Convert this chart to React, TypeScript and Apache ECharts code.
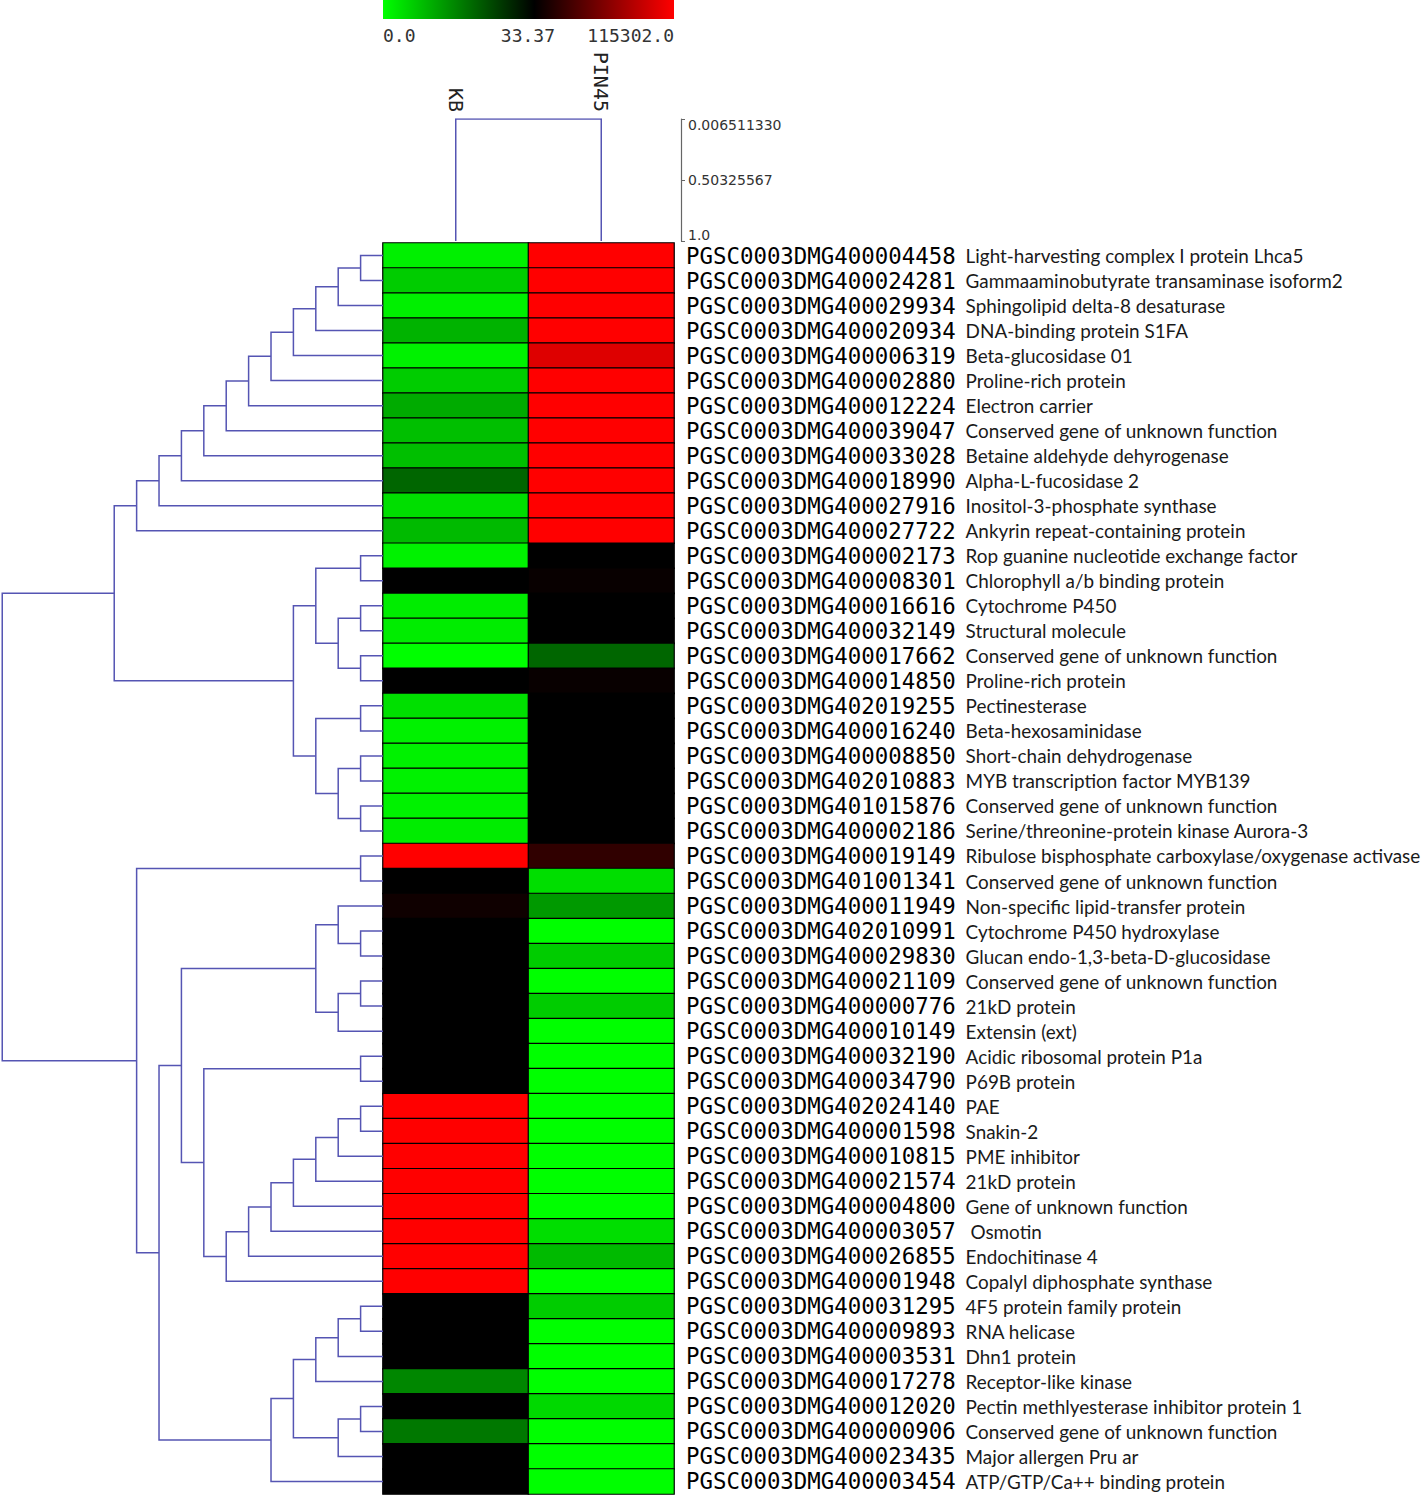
import React, { useEffect, useRef } from 'react';
import * as echarts from 'echarts';

const samples = ['KB', 'PIN45'];

const geneIds = [
  'PGSC0003DMG400004458', 'PGSC0003DMG400024281', 'PGSC0003DMG400029934', 'PGSC0003DMG400020934',
  'PGSC0003DMG400006319', 'PGSC0003DMG400002880', 'PGSC0003DMG400012224', 'PGSC0003DMG400039047',
  'PGSC0003DMG400033028', 'PGSC0003DMG400018990', 'PGSC0003DMG400027916', 'PGSC0003DMG400027722',
  'PGSC0003DMG400002173', 'PGSC0003DMG400008301', 'PGSC0003DMG400016616', 'PGSC0003DMG400032149',
  'PGSC0003DMG400017662', 'PGSC0003DMG400014850', 'PGSC0003DMG402019255', 'PGSC0003DMG400016240',
  'PGSC0003DMG400008850', 'PGSC0003DMG402010883', 'PGSC0003DMG401015876', 'PGSC0003DMG400002186',
  'PGSC0003DMG400019149', 'PGSC0003DMG401001341', 'PGSC0003DMG400011949', 'PGSC0003DMG402010991',
  'PGSC0003DMG400029830', 'PGSC0003DMG400021109', 'PGSC0003DMG400000776', 'PGSC0003DMG400010149',
  'PGSC0003DMG400032190', 'PGSC0003DMG400034790', 'PGSC0003DMG402024140', 'PGSC0003DMG400001598',
  'PGSC0003DMG400010815', 'PGSC0003DMG400021574', 'PGSC0003DMG400004800', 'PGSC0003DMG400003057',
  'PGSC0003DMG400026855', 'PGSC0003DMG400001948', 'PGSC0003DMG400031295', 'PGSC0003DMG400009893',
  'PGSC0003DMG400003531', 'PGSC0003DMG400017278', 'PGSC0003DMG400012020', 'PGSC0003DMG400000906',
  'PGSC0003DMG400023435', 'PGSC0003DMG400003454',
];

const geneNames = [
  'Light-harvesting complex I protein Lhca5', 'Gammaaminobutyrate transaminase isoform2',
  'Sphingolipid delta-8 desaturase', 'DNA-binding protein S1FA', 'Beta-glucosidase 01',
  'Proline-rich protein', 'Electron carrier', 'Conserved gene of unknown function',
  'Betaine aldehyde dehyrogenase', 'Alpha-L-fucosidase 2', 'Inositol-3-phosphate synthase',
  'Ankyrin repeat-containing protein', 'Rop guanine nucleotide exchange factor',
  'Chlorophyll a/b binding protein', 'Cytochrome P450', 'Structural molecule',
  'Conserved gene of unknown function', 'Proline-rich protein', 'Pectinesterase',
  'Beta-hexosaminidase', 'Short-chain dehydrogenase', 'MYB transcription factor MYB139',
  'Conserved gene of unknown function', 'Serine/threonine-protein kinase Aurora-3',
  'Ribulose bisphosphate carboxylase/oxygenase activase', 'Conserved gene of unknown function',
  'Non-specific lipid-transfer protein', 'Cytochrome P450 hydroxylase',
  'Glucan endo-1,3-beta-D-glucosidase', 'Conserved gene of unknown function', '21kD protein',
  'Extensin (ext)', 'Acidic ribosomal protein P1a', 'P69B protein', 'PAE', 'Snakin-2',
  'PME inhibitor', '21kD protein', 'Gene of unknown function', ' Osmotin', 'Endochitinase 4',
  'Copalyl diphosphate synthase', '4F5 protein family protein', 'RNA helicase', 'Dhn1 protein',
  'Receptor-like kinase', 'Pectin methlyesterase inhibitor protein 1',
  'Conserved gene of unknown function', 'Major allergen Pru ar', 'ATP/GTP/Ca++ binding protein',
];

// colour level: -1 = green (0.0), 0 = black (33.37), 1 = red (115302.0)
const kbLevel = [
  -0.94, -0.8, -0.94, -0.7, -0.95, -0.8, -0.67, -0.75, -0.75, -0.4, -0.87, -0.73,
  -0.95, 0, -0.93, -0.93, -1, 0, -0.88, -0.95, -0.95, -0.95, -0.95, -0.93,
  1, 0, 0.06, 0, 0, 0, 0, 0, 0, 0,
  1, 1, 1, 1, 1, 1, 1, 1,
  0, 0, 0, -0.53, 0, -0.47, 0, 0,
];
const pin45Level = [
  1, 1, 1, 1, 0.87, 1, 1, 1, 1, 1, 1, 1,
  0, 0.03, 0, 0, -0.4, 0.03, 0, 0, 0, 0, 0, 0,
  0.19, -0.87, -0.6, -1, -0.8, -1, -0.8, -1, -1, -1,
  -1, -1, -1, -1, -1, -0.87, -0.73, -1,
  -0.8, -1, -1, -1, -0.85, -1, -1, -1,
];

const colorbarLabels = ['0.0', '33.37', '115302.0'];
const scaleTicks = [0.00651133, 0.503255665, 1.0];
const scaleTickLabels = ['0.006511330', '0.50325567', '1.0'];
const columnMergeHeight = 0.00651133;
const columnLeafHeight = 1.0;

// row dendrogram merges: [childA, childB, height]; leaves 0..49, merge k -> node 50+k
const rowMerges: [number, number, number][] = [
  [0, 1, 1], [50, 2, 2], [51, 3, 3], [52, 4, 4], [53, 5, 5], [54, 6, 6], [55, 7, 7],
  [56, 8, 8], [57, 9, 9], [58, 10, 10], [59, 11, 11],
  [12, 13, 1], [14, 15, 1], [16, 17, 1], [62, 63, 2], [61, 64, 3],
  [18, 19, 1], [20, 21, 1], [22, 23, 1], [67, 68, 2], [66, 69, 3], [65, 70, 4],
  [60, 71, 12],
  [24, 25, 1], [27, 28, 1], [26, 74, 2], [29, 30, 1], [76, 31, 2], [75, 77, 3],
  [32, 33, 1], [34, 35, 1], [80, 36, 2], [81, 37, 3], [82, 38, 4], [83, 39, 5],
  [84, 40, 6], [85, 41, 7], [79, 86, 8], [78, 87, 9],
  [42, 43, 1], [89, 44, 2], [90, 45, 3], [46, 47, 1], [92, 48, 2], [91, 93, 4], [94, 49, 5],
  [88, 95, 10], [73, 96, 11], [72, 97, 17],
];

const TREE = '#5555b3';

export default function App() {
  const ref = useRef<HTMLDivElement>(null);
  useEffect(() => {
    if (!ref.current) return;
    const chart = echarts.init(ref.current, undefined, { renderer: 'svg' });

    const n = geneIds.length;
    const nodeY: number[] = [];
    const nodeH: number[] = [];
    for (let i = 0; i < n; i++) { nodeY.push(i); nodeH.push(0); }
    const rowLines: any[] = [];
    rowMerges.forEach(([a, b, h]) => {
      rowLines.push({ coords: [[nodeH[a], nodeY[a]], [h, nodeY[a]], [h, nodeY[b]], [nodeH[b], nodeY[b]]] });
      nodeY.push((nodeY[a] + nodeY[b]) / 2);
      nodeH.push(h);
    });

    const heat: number[][] = [];
    for (let r = 0; r < n; r++) {
      heat.push([0, r, kbLevel[r]]);
      heat.push([1, r, pin45Level[r]]);
    }

    const option: any = {
      animation: false,
      backgroundColor: '#ffffff',
      grid: [
        { left: 383, top: 243, width: 291, height: 1251, outerBoundsMode: 'none', containLabel: false },
        { left: 383, top: 119, width: 291, height: 122, outerBoundsMode: 'none', containLabel: false },
        { left: 0, top: 243, width: 383, height: 1251, outerBoundsMode: 'none', containLabel: false },
      ],
      xAxis: [
        {
          gridIndex: 0, type: 'category', data: samples, position: 'top',
          axisLine: { show: false }, axisTick: { show: false }, splitLine: { show: false },
          axisLabel: { rotate: 90, margin: 131, fontFamily: 'DejaVu Sans Mono', fontSize: 20, color: '#222' },
        },
        { gridIndex: 1, type: 'value', min: -0.5, max: 1.5, show: false },
        { gridIndex: 2, type: 'value', min: 0, max: 17.1, inverse: true, show: false },
      ],
      yAxis: [
        {
          gridIndex: 0, type: 'category', data: geneIds, inverse: true, position: 'right',
          axisLine: { show: false }, axisTick: { show: false }, splitLine: { show: false },
          axisLabel: {
            interval: 0, margin: 12,
            formatter: (v: string, i: number) => `{id|${v}}{desc|${geneNames[i]}}`,
            rich: {
              id: { fontFamily: 'DejaVu Sans Mono', fontSize: 22.4, color: '#000' },
              desc: { fontFamily: 'Lato', fontSize: 18.9, color: '#1a1a1a', padding: [0, 0, 0, 10] },
            },
          },
        },
        {
          gridIndex: 1, type: 'value', min: columnMergeHeight, max: columnLeafHeight, inverse: true,
          position: 'right', offset: 7, splitLine: { show: false },
          axisLine: { show: true, onZero: false, lineStyle: { color: '#666', width: 1.2 } },
          axisTick: { show: true, length: 4, customValues: scaleTicks, lineStyle: { color: '#666' } },
          axisLabel: {
            customValues: scaleTicks, margin: 7, fontFamily: 'DejaVu Sans', fontSize: 14, color: '#333',
            formatter: (v: number) => {
              const idx = scaleTicks.findIndex((t) => Math.abs(t - v) < 1e-6);
              if (idx === 0) return `{t|${scaleTickLabels[0]}}`;
              if (idx === scaleTicks.length - 1) return `{b|${scaleTickLabels[idx]}}`;
              return idx >= 0 ? `{m|${scaleTickLabels[idx]}}` : '';
            },
            rich: {
              t: { fontFamily: 'DejaVu Sans', fontSize: 14, color: '#333', padding: [12, 0, 0, 0] },
              m: { fontFamily: 'DejaVu Sans', fontSize: 14, color: '#333' },
              b: { fontFamily: 'DejaVu Sans', fontSize: 14, color: '#333', padding: [0, 0, 12, 0] },
            },
          },
        },
        { gridIndex: 2, type: 'value', min: -0.5, max: n - 0.5, inverse: true, show: false },
      ],
      visualMap: {
        type: 'continuous', show: false, min: -1, max: 1, dimension: 2, seriesIndex: 0,
        inRange: { color: ['#00ff00', '#000000', '#ff0000'] },
      },
      graphic: [
        {
          type: 'rect', shape: { x: 383, y: 0, width: 291, height: 19 },
          style: {
            fill: new echarts.graphic.LinearGradient(0, 0, 1, 0, [
              { offset: 0, color: '#00ff00' },
              { offset: 0.52, color: '#000000' },
              { offset: 1, color: '#ff0000' },
            ]),
          },
        },
        { type: 'text', x: 383, y: 35, style: { text: colorbarLabels[0], font: '18px "DejaVu Sans Mono"', fill: '#333', textAlign: 'left', textVerticalAlign: 'middle' } },
        { type: 'text', x: 555, y: 35, style: { text: colorbarLabels[1], font: '18px "DejaVu Sans Mono"', fill: '#333', textAlign: 'right', textVerticalAlign: 'middle' } },
        { type: 'text', x: 674, y: 35, style: { text: colorbarLabels[2], font: '18px "DejaVu Sans Mono"', fill: '#333', textAlign: 'right', textVerticalAlign: 'middle' } },
      ],
      series: [
        {
          type: 'heatmap', xAxisIndex: 0, yAxisIndex: 0, data: heat, silent: true,
          itemStyle: { borderColor: '#000', borderWidth: 1.2 },
        },
        {
          type: 'lines', coordinateSystem: 'cartesian2d', xAxisIndex: 1, yAxisIndex: 1, polyline: true, silent: true,
          lineStyle: { color: TREE, width: 1.5, opacity: 1 },
          data: [{ coords: [[0, columnLeafHeight], [0, columnMergeHeight], [1, columnMergeHeight], [1, columnLeafHeight]] }],
        },
        {
          type: 'lines', coordinateSystem: 'cartesian2d', xAxisIndex: 2, yAxisIndex: 2, polyline: true, silent: true,
          lineStyle: { color: TREE, width: 1.5, opacity: 1 },
          data: rowLines,
        },
      ],
    };
    chart.setOption(option);
    return () => chart.dispose();
  }, []);
  return (
    <div
      ref={ref}
      style={{ position: 'absolute', left: 0, top: 0, width: 1427, height: 1496, background: '#fff' }}
    />
  );
}
